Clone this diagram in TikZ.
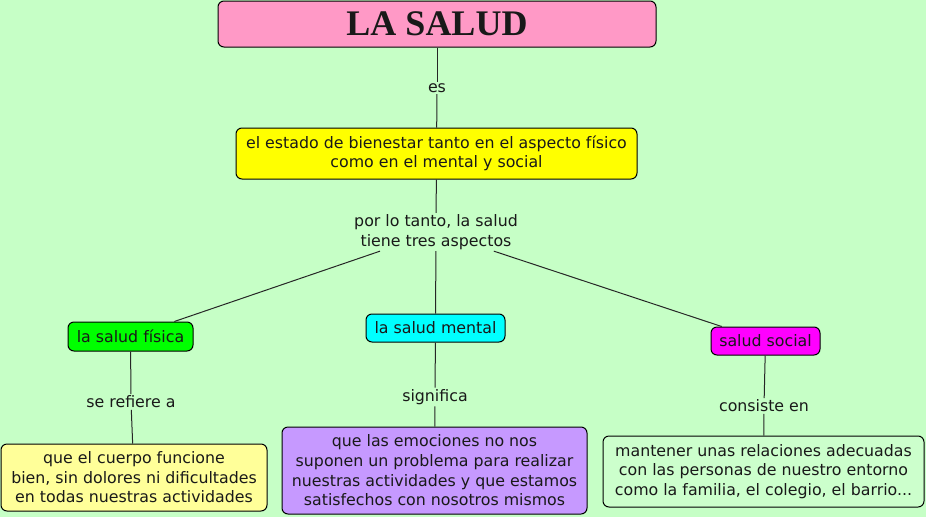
\documentclass[tikz,border=0pt]{standalone}
\usepackage{fontspec}
\setmainfont{DejaVu Sans}
\newfontfamily\titlefont{Liberation Serif}
\definecolor{bg}{HTML}{C6FFC6}
\definecolor{pinkbox}{HTML}{FF99C6}
\definecolor{yel}{HTML}{FFFF00}
\definecolor{lightyel}{HTML}{FFFF99}
\definecolor{purp}{HTML}{C699FF}
\definecolor{grn}{HTML}{00FF00}
\definecolor{cyn}{HTML}{00FFFF}
\definecolor{mag}{HTML}{FF00FF}
\definecolor{palegrn}{HTML}{CCFFCC}
\begin{document}
\begin{tikzpicture}[x=1pt,y=-1pt,
  box/.style={draw=black, rounded corners=6pt, inner sep=0pt, align=center,
    font=\fontsize{15.8}{19.6}\selectfont, line width=1pt, text=black!90},
  lbl/.style={fill=bg, inner sep=1.5pt, align=center,
    font=\fontsize{15.8}{19.6}\selectfont, text=black!90},
  conn/.style={draw=black!85, line width=1pt}]
\fill[bg] (0,0) rectangle (926,517);
\useasboundingbox (0,0) rectangle (926,517);

\node[box, fill=pinkbox, minimum width=438, minimum height=46,
  font=\titlefont\bfseries\fontsize{36}{40}\selectfont] (title) at (437,24) {LA SALUD};
\node[box, fill=yel, minimum width=401, minimum height=51] (estado) at (436.5,153.5)
  {el estado de bienestar tanto en el aspecto físico\\como en el mental y social};
\node[box, fill=grn, minimum width=125, minimum height=29] (fis) at (130.5,336.5) {la salud física};
\node[box, fill=cyn, minimum width=139, minimum height=28] (men) at (435.5,328) {la salud mental};
\node[box, fill=mag, minimum width=109, minimum height=28] (soc) at (765.5,341) {salud social};
\node[box, fill=lightyel, minimum width=266, minimum height=67] (cuerpo) at (134,477.5)
  {que el cuerpo funcione\\bien, sin dolores ni dificultades\\en todas nuestras actividades};
\node[box, fill=purp, minimum width=305, minimum height=87] (emo) at (434.5,470.5)
  {que las emociones no nos\\suponen un problema para realizar\\nuestras actividades y que estamos\\satisfechos con nosotros mismos};
\node[box, fill=palegrn, minimum width=321, minimum height=71] (mant) at (763.5,471.5)
  {mantener unas relaciones adecuadas\\con las personas de nuestro entorno\\como la familia, el colegio, el barrio...};

\node[lbl] (es) at (437,88) {es};
\node[lbl] (por) at (436,232) {por lo tanto, la salud\\tiene tres aspectos};
\node[lbl] (sref) at (131,402) {se refiere a};
\node[lbl] (sig) at (435,397) {significa};
\node[lbl] (cons) at (764,406) {consiste en};

\draw[conn] (title) -- (es);
\draw[conn] (es) -- (estado);
\draw[conn] (estado) -- (por);
\draw[conn] (por) -- (fis);
\draw[conn] (por) -- (men);
\draw[conn] (por) -- (soc);
\draw[conn] (fis) -- (sref);
\draw[conn] (sref) -- (cuerpo);
\draw[conn] (men) -- (sig);
\draw[conn] (sig) -- (emo);
\draw[conn] (soc) -- (cons);
\draw[conn] (cons) -- (mant);
\end{tikzpicture}
\end{document}
